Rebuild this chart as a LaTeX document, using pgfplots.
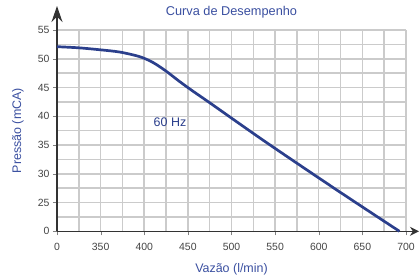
\documentclass[border=0pt]{standalone}
\usepackage{pgfplots}
\pgfplotsset{compat=1.18}
\usepackage{fontspec}
\setmainfont{Liberation Sans}
\usetikzlibrary{arrows.meta}
\definecolor{curve}{HTML}{2B3F8C}
\definecolor{titleblue}{HTML}{3A4FA0}
\definecolor{gridgray}{HTML}{CBCBCB}
\definecolor{ticklab}{HTML}{444444}
\begin{document}
\begin{tikzpicture}
\begin{axis}[
  name=ax,
  scale only axis,
  width=349bp, height=201.3bp,
  xmin=0, xmax=8, ymin=0, ymax=7,
  axis lines=left,
  axis line style={draw=black!80, line width=1.3bp},
  every outer x axis line/.append style={-{Stealth[length=9bp,width=9bp]}, shorten >=-13bp},
  every outer y axis line/.append style={-{Stealth[length=16bp,width=11bp]}, shorten >=-24bp},
  xtick={0,1,2,3,4,5,6,7,8},
  xticklabels={0,350,400,450,500,550,600,650,700},
  ytick={0,1,2,3,4,5,6,7},
  yticklabels={0,25,30,35,40,45,50,55},
  minor xtick={0.5,1.5,...,7.5},
  minor ytick={0.5,1.5,...,6.5},
  tick align=outside,
  major tick length=4bp,
  minor tick length=0bp,
  xmajorgrids, ymajorgrids, xminorgrids, yminorgrids,
  grid style={draw=gridgray, line width=1.5bp},
  major grid style={draw=gridgray, line width=1.5bp},
  minor grid style={draw=gridgray, line width=1.5bp},
  ticklabel style={font=\fontsize{10.5}{12}\selectfont, text=ticklab},
  xticklabel style={yshift=-4bp},
  xlabel={Vazão (l/min)},
  ylabel={Pressão (mCA)},
  label style={font=\fontsize{12.5}{14}\selectfont, text=titleblue},
  xlabel style={at={(axis description cs:0.5,0)}, anchor=base, yshift=-41bp},
  ylabel style={at={(axis description cs:-0.112,0.5)}, anchor=center},
  title={Curva de Desempenho},
  title style={font=\fontsize{12.8}{14}\selectfont, text=titleblue, at={(axis description cs:0.5,1)}, anchor=base, yshift=9bp},
  clip=false,
]
\addplot[curve, line width=2.7bp, smooth, tension=0.5] coordinates {
  (0,6.42) (0.5,6.38) (1.0,6.31) (1.45,6.23) (1.9,6.07) (2.2,5.87)
  (2.5,5.57) (2.8,5.22) (3.1,4.89) (3.5,4.47) (4.77,3.12) (6.38,1.47) (7.85,0)
};
\node[font=\fontsize{12.5}{14}\selectfont, text=curve] at (axis cs:2.59,3.78) {60 Hz};
\end{axis}
\path ([xshift=-57bp,yshift=-44.7bp]ax.south west) rectangle ([xshift=14bp,yshift=30bp]ax.north east);
\end{tikzpicture}
\end{document}
